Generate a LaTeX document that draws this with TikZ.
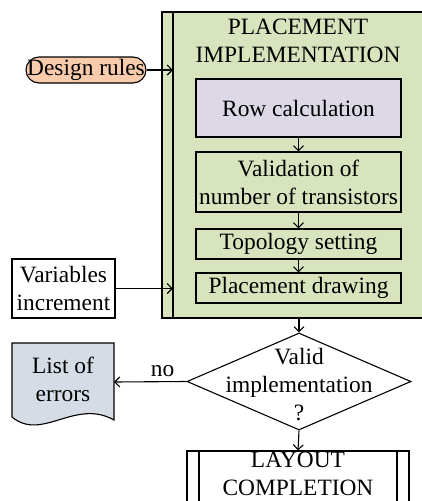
\documentclass[tikz,border=0pt]{standalone}
\usepackage{fontspec}
\setmainfont{Liberation Serif}
\usepackage{xcolor}
\usepackage{tikz}
\usetikzlibrary{calc,arrows.meta,positioning,shapes.geometric}
\definecolor{implc}{HTML}{D7E4BD}
\definecolor{rowc}{HTML}{DDD8E6}
\definecolor{rulec}{HTML}{F8CBAD}
\definecolor{errc}{HTML}{D6DCE5}
\tikzset{
  ar/.style={-{Straight Barb[length=5pt,width=10pt]},line width=1.1pt,black},
  box/.style={draw=black,line width=1.1pt,align=center,inner sep=2pt,minimum width=205pt},
  txt/.style={font=\fontsize{23.4}{28}\selectfont}
}

\begin{document}
\begin{tikzpicture}[x=1pt,y=-1pt,txt]
\useasboundingbox (0,0) rectangle (422,501);
\clip (0,0) rectangle (422,501);
% placement implementation block
\node[draw=black,line width=1.1pt,fill=implc,minimum width=270pt,minimum height=306pt] (impl) at (297,165) {};
\draw[line width=1.1pt] (173,12) -- (173,318);
\node[align=center] (title) at (298,41) {PLACEMENT\\IMPLEMENTATION};
\node[box,fill=rowc,minimum height=58pt] (row) at (298.5,108) {Row calculation};
\node[box,fill=implc,minimum height=60pt] (valid) at (298.5,182) {Validation of\\number of transistors};
\node[box,fill=implc,minimum height=30pt] (topo) at (298.5,244) {Topology setting};
\node[box,fill=implc,minimum height=30pt] (place) at (298.5,288) {Placement drawing};
\draw[ar] (row) -- (valid);
\draw[ar] (valid) -- (topo);
\draw[ar] (topo) -- (place);
% inputs
\node[draw=black,line width=1.1pt,fill=rulec,rounded corners=13pt,minimum width=120pt,minimum height=26pt,inner sep=1pt] (rules) at (86,70) {Design rules};
\node[draw=black,line width=1.1pt,align=center,minimum width=103pt,minimum height=59pt,inner sep=1pt] (vars) at (63.5,288.5) {Variables\\increment};
\coordinate (rulesin) at (173,70);
\coordinate (varsin) at (173,288.5);
\draw[ar] (rules) -- (rulesin);
\draw[ar] (vars) -- (varsin);
% decision
\node[diamond,draw=black,line width=1.1pt,minimum width=224pt,minimum height=97pt,shape aspect=2.3,inner sep=0pt,
  label={[align=center,name=checktxt,yshift=-3pt]center:Valid\\implementation\\?}] (check) at (299,381.5) {};
\draw[ar] (impl.south -| check) -- (check.north);
% list of errors
\filldraw[fill=errc,line width=1.1pt] (12,343) -- (114,343) -- (114,420) .. controls (75,398) and (42,442) .. (12,417) -- cycle;
\node[align=center,inner sep=0pt] (errs) at (63,379) {List of\\errors};
\coordinate (errsin) at (114,382);
\draw[ar] (check.west) -- (errsin) node[pos=0.33,above=1pt] (no) {no};
% completion
\node[draw=black,line width=1.1pt,minimum width=222pt,minimum height=56pt,align=center,inner sep=0pt,text depth=11pt] (done) at (298,479) {LAYOUT\\COMPLETION};
\draw[line width=1.1pt] (199,451) -- (199,510) (397,451) -- (397,510);
\draw[ar] (check.south) -- (done.north);
\end{tikzpicture}
\end{document}
